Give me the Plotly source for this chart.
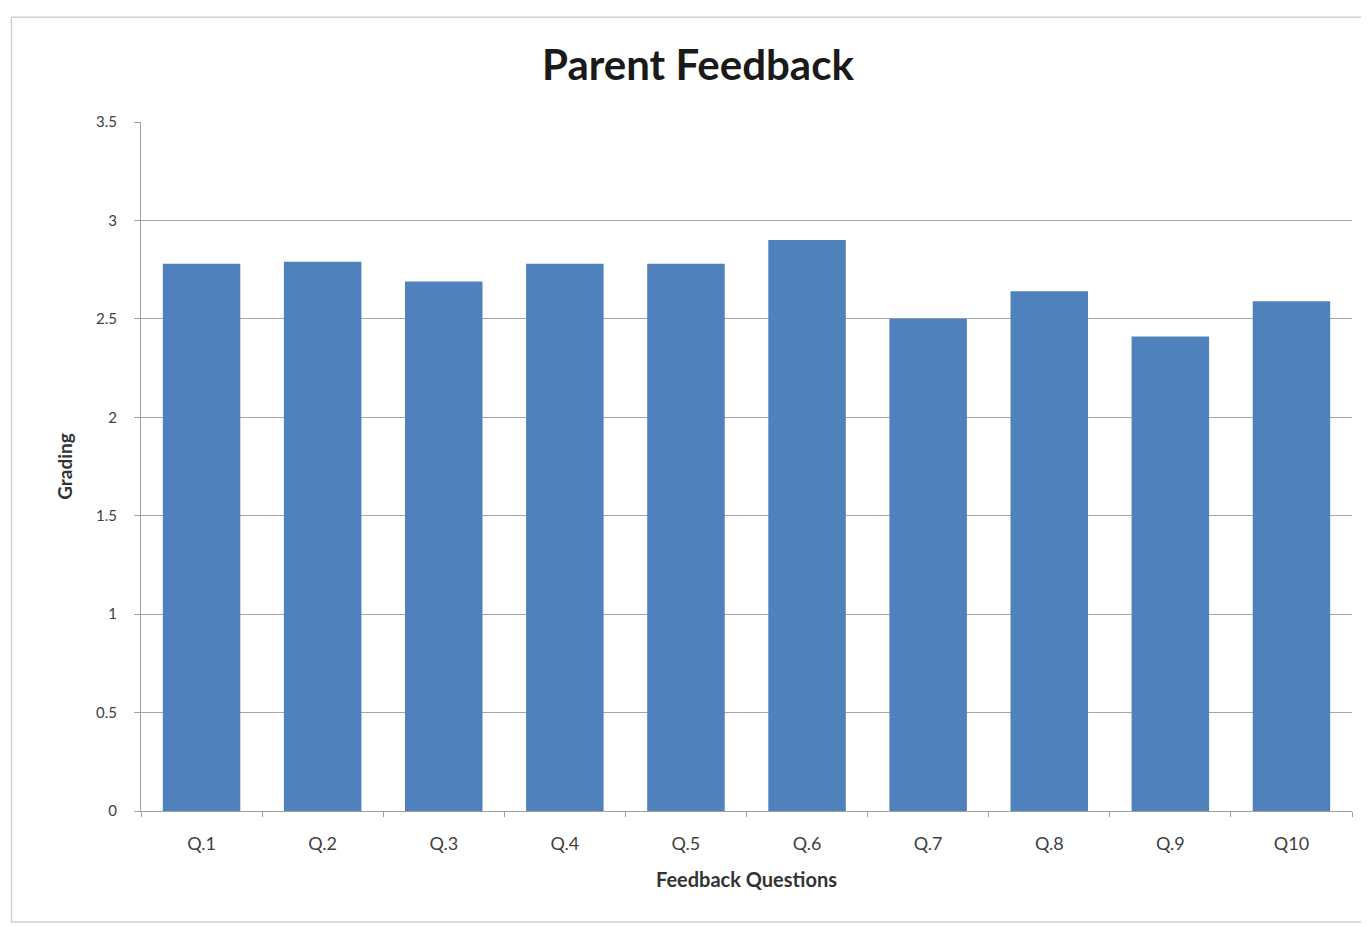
import plotly.graph_objects as go

categories = ["Q.1", "Q.2", "Q.3", "Q.4", "Q.5", "Q.6", "Q.7", "Q.8", "Q.9", "Q10"]
grading = [2.78, 2.79, 2.69, 2.78, 2.78, 2.90, 2.50, 2.64, 2.41, 2.59]
y_ticks = [0, 0.5, 1, 1.5, 2, 2.5, 3, 3.5]
y_tick_labels = ["0", "0.5", "1", "1.5", "2", "2.5", "3", "3.5"]

fig = go.Figure(go.Bar(x=categories, y=grading, marker=dict(color="#4F81BD", line=dict(width=0))))

fig.update_layout(
    width=1369, height=927,
    paper_bgcolor="white", plot_bgcolor="white",
    margin=dict(l=133, r=25, t=114, b=124),
    bargap=0.36,
    showlegend=False,
    font=dict(family="Lato, Open Sans, sans-serif", color="#404040"),
    title=dict(text="<b>Parent Feedback</b>", x=0.504, xanchor="center", y=0.938, yanchor="middle",
               font=dict(size=42, color="#1a1a1a", family="Lato, Open Sans, sans-serif")),
    xaxis=dict(
        title=dict(text="<b>Feedback Questions</b>", font=dict(size=20, color="#333333"), standoff=20),
        tickfont=dict(size=18, color="#404040"),
        ticklabelstandoff=16,
        showline=True, linecolor="#a0a0a0", linewidth=1,
        ticks="outside", tickson="boundaries", ticklen=5, tickcolor="#a0a0a0",
        showgrid=False,
    ),
    yaxis=dict(
        title=dict(text="<b>Grading</b>", font=dict(size=19, color="#333333"), standoff=18),
        range=[0, 3.5], tickvals=y_ticks, ticktext=y_tick_labels,
        tickfont=dict(size=15, color="#404040"),
        ticklabelstandoff=14,
        showline=True, linecolor="#a0a0a0", linewidth=1,
        ticks="outside", ticklen=6, tickcolor="#a0a0a0",
        showgrid=True, gridcolor="#a6a6a6", gridwidth=1,
        zeroline=False,
    ),
    shapes=[dict(type="rect", xref="paper", yref="paper",
                 x0=-0.107, x1=1.03, y0=-0.161, y1=1.152,
                 line=dict(color="#d0d0d0", width=1.5), fillcolor="rgba(0,0,0,0)")],
)

fig.write_html("out.html")
